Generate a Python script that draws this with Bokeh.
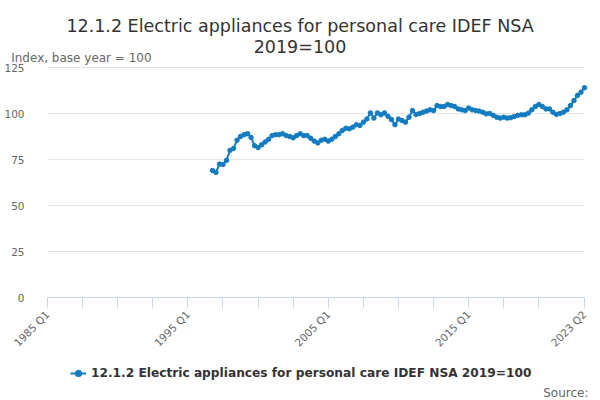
import math
from bokeh.plotting import figure
from bokeh.models import (Range1d, FixedTicker, Label, Legend, LegendItem,
                          LinearAxis)
from bokeh.embed import file_html
from bokeh.resources import INLINE

title_line1 = "12.1.2 Electric appliances for personal care IDEF NSA"
title_line2 = "2019=100"
y_label = "Index, base year = 100"
series_name = "12.1.2 Electric appliances for personal care IDEF NSA 2019=100"
source_text = "Source:"

axis_first = (1985, 1)
axis_last = (2023, 2)
series_start = (1996, 4)
values = [
    69, 68, 72.5, 72.3, 74.5, 80, 81, 85.5, 87.5, 88.5, 89, 87, 82.5, 81.5,
    83, 84.5, 86, 88, 88.5, 88.5, 89, 88, 87.5, 86.8, 88, 89, 88, 88, 86.5,
    85, 84, 85.5, 86, 85, 86, 87.5, 89, 90.8, 92, 91.7, 92.6, 93.9, 93.5,
    95.3, 97, 100.3, 97.5, 100.3, 99.3, 100.3, 98.5, 96.7, 93.9, 97, 96.2,
    95.3, 98, 101.6, 99.5, 100, 100.7, 101.3, 102, 101.6, 104.3, 103.8,
    103.8, 104.9, 104.3, 103.8, 102.5, 102, 101.6, 103, 102, 101.6, 101.3,
    100.7, 99.8, 100, 99, 98, 97.5, 98, 97.5, 97.7, 98.4, 99, 99.3, 99.3,
    100.2, 102, 103.8, 104.9, 103.8, 102.5, 102.5, 100.7, 99.5, 100, 100.7,
    102, 104.3, 107, 109.8, 111.6, 114,
]
y_ticks = [0, 25, 50, 75, 100, 125]
x_labels = ["1985 Q1", "1995 Q1", "2005 Q1", "2015 Q1", "2023 Q2"]
tick_step_quarters = 10


def qidx(year, q):
    return (year - axis_first[0]) * 4 + (q - axis_first[1])


def label_idx(lbl):
    y, q = lbl.split(" Q")
    return qidx(int(y), int(q))


start = qidx(*series_start)
xs = [start + i for i in range(len(values))]
last = qidx(*axis_last)
y_top = y_ticks[-1]

LINE = "#137cc1"
FONT = "DejaVu Sans"

# canvas / plot-area geometry (pixels)
CW, CH = 600, 400
PL, PR, PT, PB = 47, 16, 67, 103         # plot area margins inside the canvas
sx = (CW - PL - PR) / last               # px per quarter
sy = (CH - PT - PB) / y_top              # px per index point

p = figure(frame_width=CW, frame_height=CH, output_backend="svg",
           toolbar_location=None, title=None, min_border=0,
           x_axis_type=None, y_axis_type=None,
           x_range=Range1d(-PL / sx, last + PR / sx),
           y_range=Range1d(-PB / sy, y_top + PT / sy))
p.outline_line_color = None
p.background_fill_color = "white"

# horizontal grid lines across the plot area
p.segment(x0=[0] * len(y_ticks), x1=[last] * len(y_ticks), y0=y_ticks,
          y1=y_ticks, line_color="#e6e6e6", line_width=1)

r_line = p.line(xs, values, line_color=LINE, line_width=2)
r_pts = p.scatter(xs, values, size=4.5, fill_color=LINE, line_color=LINE)

# y axis
yax = LinearAxis(fixed_location=0, ticker=FixedTicker(ticks=y_ticks))
yax.axis_line_color = None
yax.major_tick_line_color = None
yax.minor_tick_line_color = None
yax.major_label_standoff = 17
yax.major_label_text_font = FONT
yax.major_label_text_font_size = "10.5px"
yax.major_label_text_color = "#666666"
p.add_layout(yax, "left")

# x axis
tick_pos = list(range(0, last - 5, tick_step_quarters)) + [last]
label_pos = {label_idx(l): l for l in x_labels}
xax = LinearAxis(fixed_location=0, bounds=(0, last),
                 ticker=FixedTicker(ticks=tick_pos))
xax.major_label_overrides = {t: label_pos.get(t, "") for t in tick_pos}
xax.axis_line_color = "#ccd6eb"
xax.major_tick_line_color = "#ccd6eb"
xax.major_tick_out = 10
xax.major_tick_in = 0
xax.minor_tick_line_color = None
xax.major_label_orientation = math.pi / 4
xax.major_label_standoff = 5
xax.major_label_text_font = FONT
xax.major_label_text_font_size = "10.5px"
xax.major_label_text_color = "#666666"
p.add_layout(xax, "below")

# texts (screen px from canvas bottom-left)
for txt, yy in ((title_line1, CH - 25), (title_line2, CH - 46.5)):
    p.add_layout(Label(x=299.5, y=yy, x_units="screen", y_units="screen",
                       text=txt, text_align="center", text_baseline="alphabetic",
                       text_font=FONT, text_font_size="17.5px",
                       text_color="#333333"))
p.add_layout(Label(x=10.7, y=CH - 57.5, x_units="screen", y_units="screen",
                   text=y_label, text_align="left", text_baseline="alphabetic",
                   text_font=FONT, text_font_size="12px", text_color="#666666"))
p.add_layout(Label(x=588, y=8, x_units="screen", y_units="screen",
                   text=source_text, text_align="right",
                   text_baseline="alphabetic", text_font=FONT,
                   text_font_size="12px", text_color="#666666"))

legend = Legend(items=[LegendItem(label=series_name, renderers=[r_line, r_pts])],
                location=(70, 19), orientation="horizontal",
                label_text_font=FONT, label_text_font_size="12.2px",
                label_text_font_style="bold", label_text_color="#333333",
                glyph_width=16, glyph_height=16, label_height=16,
                label_standoff=5, padding=0, margin=0,
                border_line_color=None, background_fill_alpha=0)
p.add_layout(legend, "center")

open("out.html", "w").write(file_html(p, INLINE))
